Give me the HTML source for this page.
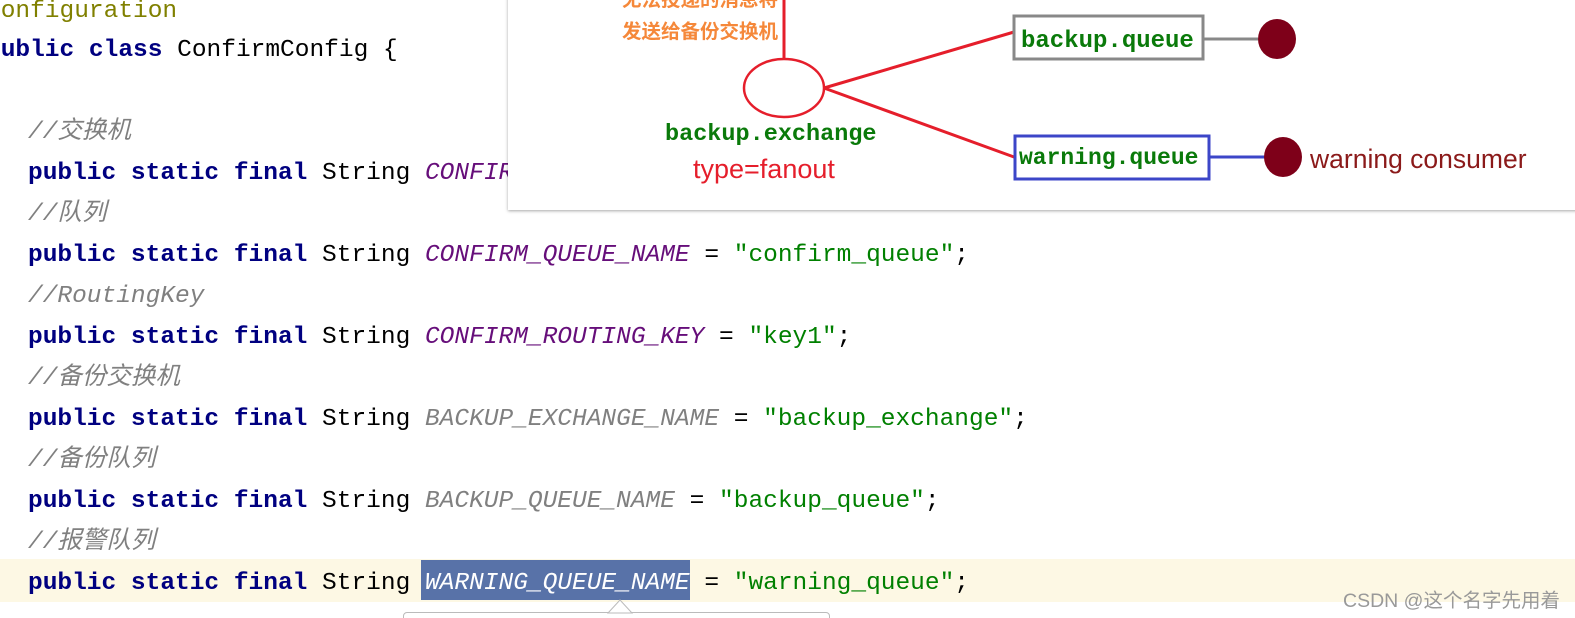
<!DOCTYPE html>
<html><head><meta charset="utf-8"><style>
html,body{margin:0;padding:0;width:1575px;height:618px;overflow:hidden;background:#fff;position:relative}
.l{position:absolute;white-space:pre;font-family:"Liberation Mono","Noto Sans CJK SC",monospace;font-size:24.5px;line-height:40px;height:40px;color:#000}
.k{color:#000080;font-weight:bold}
.c{color:#808080;font-style:italic}
.p{color:#660e7a;font-style:italic}
.g{color:#808080;font-style:italic}
.s{color:#008000}
.a{color:#808000}
</style></head><body>
<div style="position:absolute;left:0;top:559px;width:1575px;height:43px;background:#fdf8e4"></div>
<div style="position:absolute;left:421px;top:560px;width:269px;height:40px;background:#5872a8"></div>
<div class="l a" style="left:-14px;top:-8px">configuration</div>
<div class="l" style="left:-14px;top:31px"><span class="k">public class</span> ConfirmConfig {</div>
<div class="l c" style="left:28px;top:113px">//交换机</div>
<div class="l" style="left:28px;top:154px"><span class="k">public static final</span> String <span class="p">CONFIRM_EXCHANGE_NAME</span></div>
<div class="l c" style="left:28px;top:195px">//队列</div>
<div class="l" style="left:28px;top:236px"><span class="k">public static final</span> String <span class="p">CONFIRM_QUEUE_NAME</span> = <span class="s">"confirm_queue"</span>;</div>
<div class="l c" style="left:28px;top:277px">//RoutingKey</div>
<div class="l" style="left:28px;top:318px"><span class="k">public static final</span> String <span class="p">CONFIRM_ROUTING_KEY</span> = <span class="s">"key1"</span>;</div>
<div class="l c" style="left:28px;top:359px">//备份交换机</div>
<div class="l" style="left:28px;top:400px"><span class="k">public static final</span> String <span class="g">BACKUP_EXCHANGE_NAME</span> = <span class="s">"backup_exchange"</span>;</div>
<div class="l c" style="left:28px;top:441px">//备份队列</div>
<div class="l" style="left:28px;top:482px"><span class="k">public static final</span> String <span class="g">BACKUP_QUEUE_NAME</span> = <span class="s">"backup_queue"</span>;</div>
<div class="l c" style="left:28px;top:523px">//报警队列</div>
<div class="l" style="left:28px;top:564px"><span class="k">public static final</span> String <span style="color:#fff;font-style:italic">WARNING_QUEUE_NAME</span> = <span class="s">"warning_queue"</span>;</div>
<div style="position:absolute;left:403px;top:612px;width:425px;height:20px;border:1px solid #bbb;border-radius:4px;background:#fff"></div>
<svg style="position:absolute;left:600px;top:598px" width="40" height="20"><polygon points="8,15 20,2 32,15" fill="#fff" stroke="#bbb"/></svg>
<div style="position:absolute;left:1343px;top:584px;font-family:'Liberation Sans','Noto Sans CJK SC',sans-serif;font-size:19.5px;color:#999">CSDN @这个名字先用着</div>

<div style="position:absolute;left:508px;top:-5px;width:1080px;height:215px;background:#fff;box-shadow:0 1px 3px rgba(0,0,0,.35)"></div>
<svg style="position:absolute;left:0;top:0" width="1575" height="618">
<line x1="784" y1="0" x2="784" y2="59" stroke="#e51e2b" stroke-width="3"/>
<ellipse cx="784" cy="88" rx="40" ry="29" fill="none" stroke="#e51e2b" stroke-width="2.5"/>
<line x1="824" y1="88" x2="1014" y2="32" stroke="#e51e2b" stroke-width="3"/>
<line x1="824" y1="88" x2="1014" y2="157" stroke="#e51e2b" stroke-width="3"/>
<rect x="1014" y="16" width="189" height="43" fill="#fff" stroke="#888" stroke-width="3"/>
<line x1="1203" y1="39" x2="1258" y2="39" stroke="#888" stroke-width="3"/>
<ellipse cx="1277" cy="39" rx="19" ry="20" fill="#7e0019"/>
<rect x="1015" y="136" width="194" height="43" fill="#fff" stroke="#3c46c8" stroke-width="3"/>
<line x1="1209" y1="157" x2="1265" y2="157" stroke="#3c46c8" stroke-width="3"/>
<ellipse cx="1283" cy="157" rx="19" ry="20" fill="#7e0019"/>
<text x="1021" y="47" font-family="Liberation Mono" font-weight="bold" font-size="24" fill="#0a7a0a">backup.queue</text>
<text x="1019" y="164" font-family="Liberation Mono" font-weight="bold" font-size="23" fill="#0a7a0a">warning.queue</text>
<text x="1310" y="168" font-family="Liberation Sans" font-size="26.5" fill="#8b1a1a">warning consumer</text>
<text x="665" y="140" font-family="Liberation Mono" font-weight="bold" font-size="23.5" fill="#0a7a0a">backup.exchange</text>
<text x="693" y="178" font-family="Liberation Sans" font-size="27" fill="#e51e2b">type=fanout</text>
<text x="622" y="38" font-family="Noto Sans CJK SC,sans-serif" font-weight="bold" font-size="19.5" fill="#f5883a">发送给备份交换机</text>
<text x="622" y="6" font-family="Noto Sans CJK SC,sans-serif" font-weight="bold" font-size="19.5" fill="#f5883a">无法投递的消息将</text>
</svg>
</body></html>
